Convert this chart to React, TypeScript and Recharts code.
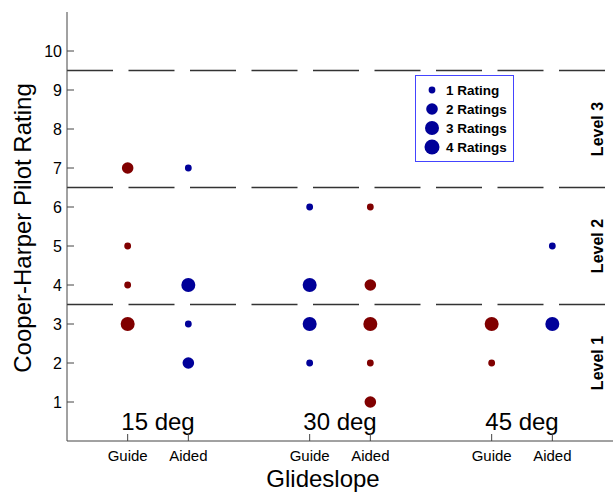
import React from 'react';
import { ScatterChart, Scatter, XAxis, YAxis, ReferenceLine, ReferenceDot } from 'recharts';

// Category positions along the Glideslope axis
const categoryX = [1, 2, 4, 5, 7, 8];
const categoryLabels = ['Guide', 'Aided', 'Guide', 'Aided', 'Guide', 'Aided'];
const glideslopeX = [1.5, 4.5, 7.5];
const glideslopeLabels = ['15 deg', '30 deg', '45 deg'];
const yTicks = [1, 2, 3, 4, 5, 6, 7, 8, 9, 10];
const levelBounds = [3.5, 6.5, 9.5];
const levelY = [2, 5, 8];
const levelLabels = ['Level 1', 'Level 2', 'Level 3'];

// Red series
const redX = [1, 1, 1, 1, 5, 5, 5, 5, 5, 7, 7];
const redRating = [7, 5, 4, 3, 6, 4, 3, 2, 1, 3, 2];
const redCount = [2, 1, 1, 3, 1, 2, 3, 1, 2, 3, 1];

// Blue series
const blueX = [2, 2, 2, 2, 4, 4, 4, 4, 8, 8];
const blueRating = [7, 4, 3, 2, 6, 4, 3, 2, 5, 3];
const blueCount = [1, 3, 1, 2, 1, 3, 3, 1, 1, 3];

const legendLabels = ['1 Rating', '2 Ratings', '3 Ratings', '4 Ratings'];
const legendCounts = [1, 2, 3, 4];

const RADIUS: Record<number, number> = { 1: 3.4, 2: 5.8, 3: 7, 4: 7.5 };
const RED = '#800000';
const BLUE = '#000099';
const FONT = '"Liberation Sans", Arial, Helvetica, sans-serif';
const AXIS = '#444';

const redData = redX.map((x, i) => ({ x, y: redRating[i], count: redCount[i] }));
const blueData = blueX.map((x, i) => ({ x, y: blueRating[i], count: blueCount[i] }));

const makeShape = (color: string) => (props: any) => {
  const { cx, cy, payload } = props;
  if (cx == null || cy == null) return <g />;
  return <circle cx={cx} cy={cy} r={RADIUS[payload.count]} fill={color} />;
};

const YTick = (props: any) => {
  const { x, y, payload } = props;
  return (
    <g>
      <line x1={x + 5} x2={x + 12} y1={y} y2={y} stroke={AXIS} strokeWidth={1} />
      <text x={x} y={y} textAnchor="end" dominantBaseline="central" fontSize={16} fontFamily={FONT} fill="#000">
        {payload.value}
      </text>
    </g>
  );
};

const XTick = (props: any) => {
  const { x, y, payload } = props;
  const idx = categoryX.indexOf(payload.value);
  return (
    <g>
      <line x1={x} x2={x} y1={y - 8} y2={y - 15} stroke={AXIS} strokeWidth={1} />
      <text x={x} y={y + 11.5} textAnchor="middle" fontSize={15} fontFamily={FONT} fill="#000">
        {idx >= 0 ? categoryLabels[idx] : ''}
      </text>
    </g>
  );
};

export default function App() {
  return (
    <div style={{ position: 'absolute', left: 0, top: 0, width: 616, height: 493, background: '#fff' }}>
      <ScatterChart width={616} height={493} margin={{ top: 12, right: 3, bottom: 0, left: 0 }}>
        <XAxis
          type="number"
          dataKey="x"
          domain={[0, 9]}
          ticks={categoryX}
          interval={0}
          height={52}
          tickSize={0}
          tickMargin={8}
          tick={<XTick />}
          tickLine={false}
          axisLine={{ stroke: AXIS, strokeWidth: 1 }}
        />
        <YAxis
          type="number"
          dataKey="y"
          domain={[0, 11]}
          ticks={yTicks}
          interval={0}
          width={67}
          tickSize={0}
          tickMargin={5}
          tick={<YTick />}
          tickLine={false}
          axisLine={{ stroke: AXIS, strokeWidth: 1 }}
        />
        {levelBounds.map((v) => (
          <ReferenceLine key={v} y={v} stroke="#333" strokeWidth={1.5} strokeDasharray="46 15.5" />
        ))}
        <Scatter data={redData} fill={RED} shape={makeShape(RED)} isAnimationActive={false} />
        <Scatter data={blueData} fill={BLUE} shape={makeShape(BLUE)} isAnimationActive={false} />
        {glideslopeX.map((x, i) => (
          <ReferenceDot
            key={'g' + i}
            x={x}
            y={0.28}
            r={0}
            shape={(p: any) => (
              <text x={p.cx} y={p.cy} textAnchor="middle" fontSize={24} fontFamily={FONT} fill="#000">
                {glideslopeLabels[i]}
              </text>
            )}
          />
        ))}
        {levelY.map((y, i) => (
          <ReferenceDot
            key={'l' + i}
            x={8.74}
            y={y}
            r={0}
            shape={(p: any) => (
              <text
                x={p.cx}
                y={p.cy}
                transform={`rotate(-90 ${p.cx} ${p.cy})`}
                textAnchor="middle"
                dominantBaseline="central"
                fontSize={16}
                fontWeight="bold"
                fontFamily={FONT}
                fill="#000"
              >
                {levelLabels[i]}
              </text>
            )}
          />
        ))}
      </ScatterChart>
      <svg width={616} height={493} style={{ position: 'absolute', left: 0, top: 0, pointerEvents: 'none' }}>
        <text
          x={30.5}
          y={228}
          transform="rotate(-90 30.5 228)"
          textAnchor="middle"
          fontSize={24}
          fontFamily={FONT}
          fill="#000"
        >
          Cooper-Harper Pilot Rating
        </text>
        <text x={323} y={487} textAnchor="middle" fontSize={24} fontFamily={FONT} fill="#000">
          Glideslope
        </text>
        <rect x={415.5} y={75.5} width={98} height={86} fill="#fff" stroke="#4444ff" strokeWidth={1} />
        {legendLabels.map((lab, i) => (
          <g key={lab}>
            <circle cx={432} cy={90 + i * 19} r={RADIUS[legendCounts[i]]} fill={BLUE} />
            <text x={446} y={90 + i * 19} dominantBaseline="central" fontSize={13.5} fontWeight="bold" fontFamily={FONT} fill="#000">
              {lab}
            </text>
          </g>
        ))}
      </svg>
    </div>
  );
}
